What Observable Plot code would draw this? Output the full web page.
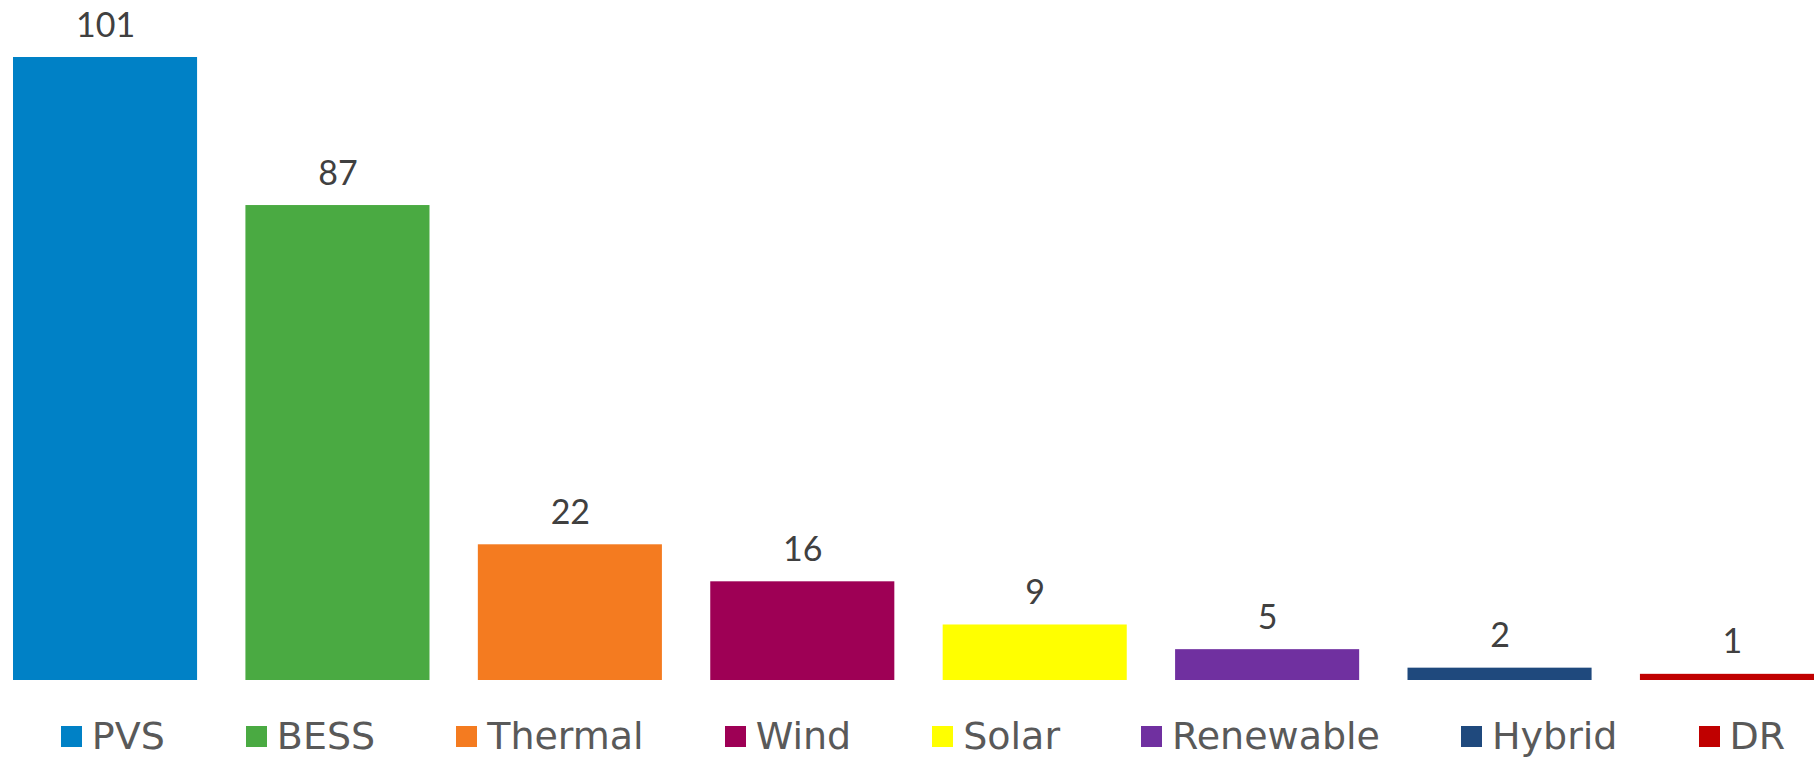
<!DOCTYPE html>
<html>
<head>
<meta charset="utf-8">
<script src="https://cdn.jsdelivr.net/npm/d3@7"></script>
<script src="https://cdn.jsdelivr.net/npm/@observablehq/plot@0.6"></script>
<style>
  html, body { margin: 0; padding: 0; background: #ffffff; overflow: hidden; width: 1814px; height: 759px; }
  #chart { position: absolute; left: 0; top: 0; }
  #legend { position: absolute; left: 16px; top: 715px; width: 1814px; display: flex; justify-content: center;
            gap: 81px; font-family: "DejaVu Sans", sans-serif; font-size: 38px; color: #595959; line-height: 42px; }
  .item { display: flex; align-items: center; gap: 10px; white-space: nowrap; }
  .sw { width: 21px; height: 21px; flex: none; }
</style>
</head>
<body>
<div id="chart"></div>
<div id="legend"></div>
<script>
// Categories in display order
const categories = ["PVS", "BESS", "Thermal", "Wind", "Solar", "Renewable", "Hybrid", "DR"];
// Bar heights as drawn in the reference (the BESS bar is drawn at ~77 although its label reads 87)
const barValues = [101, 77, 22, 16, 9, 5, 2, 1];
// Data labels as printed above the bars
const labelTexts = ["101", "87", "22", "16", "9", "5", "2", "1"];
// Series colours
const colors = ["#0081C6", "#4AAA42", "#F47B20", "#9E0055", "#FFFF00", "#7030A0", "#1F497D", "#C00000"];

const data = categories.map((c, i) => ({category: c, value: barValues[i], label: labelTexts[i]}));

const plot = Plot.plot({
  width: 1814,
  height: 700,
  marginTop: 57,
  marginBottom: 20,
  marginLeft: 13,
  marginRight: 0,
  style: {background: "#ffffff"},
  x: {domain: categories, range: [13, 1824], paddingInner: 0.208, paddingOuter: 0, round: false, axis: null},
  y: {domain: [0, 101], range: [680, 57], axis: null},
  color: {domain: categories, range: colors},
  marks: [
    Plot.barY(data, {x: "category", y: "value", fill: "category"}),
    Plot.text(data, {x: "category", y: "value", text: "label", lineAnchor: "bottom", dy: -21,
                     fontSize: 34, fill: "#404040", fontFamily: "Lato"})
  ]
});
document.getElementById("chart").appendChild(plot);

const legend = document.getElementById("legend");
categories.forEach((c, i) => {
  const item = document.createElement("div");
  item.className = "item";
  const sw = document.createElement("div");
  sw.className = "sw";
  sw.style.background = colors[i];
  const t = document.createElement("span");
  t.textContent = c;
  item.appendChild(sw);
  item.appendChild(t);
  legend.appendChild(item);
});
</script>
</body>
</html>
